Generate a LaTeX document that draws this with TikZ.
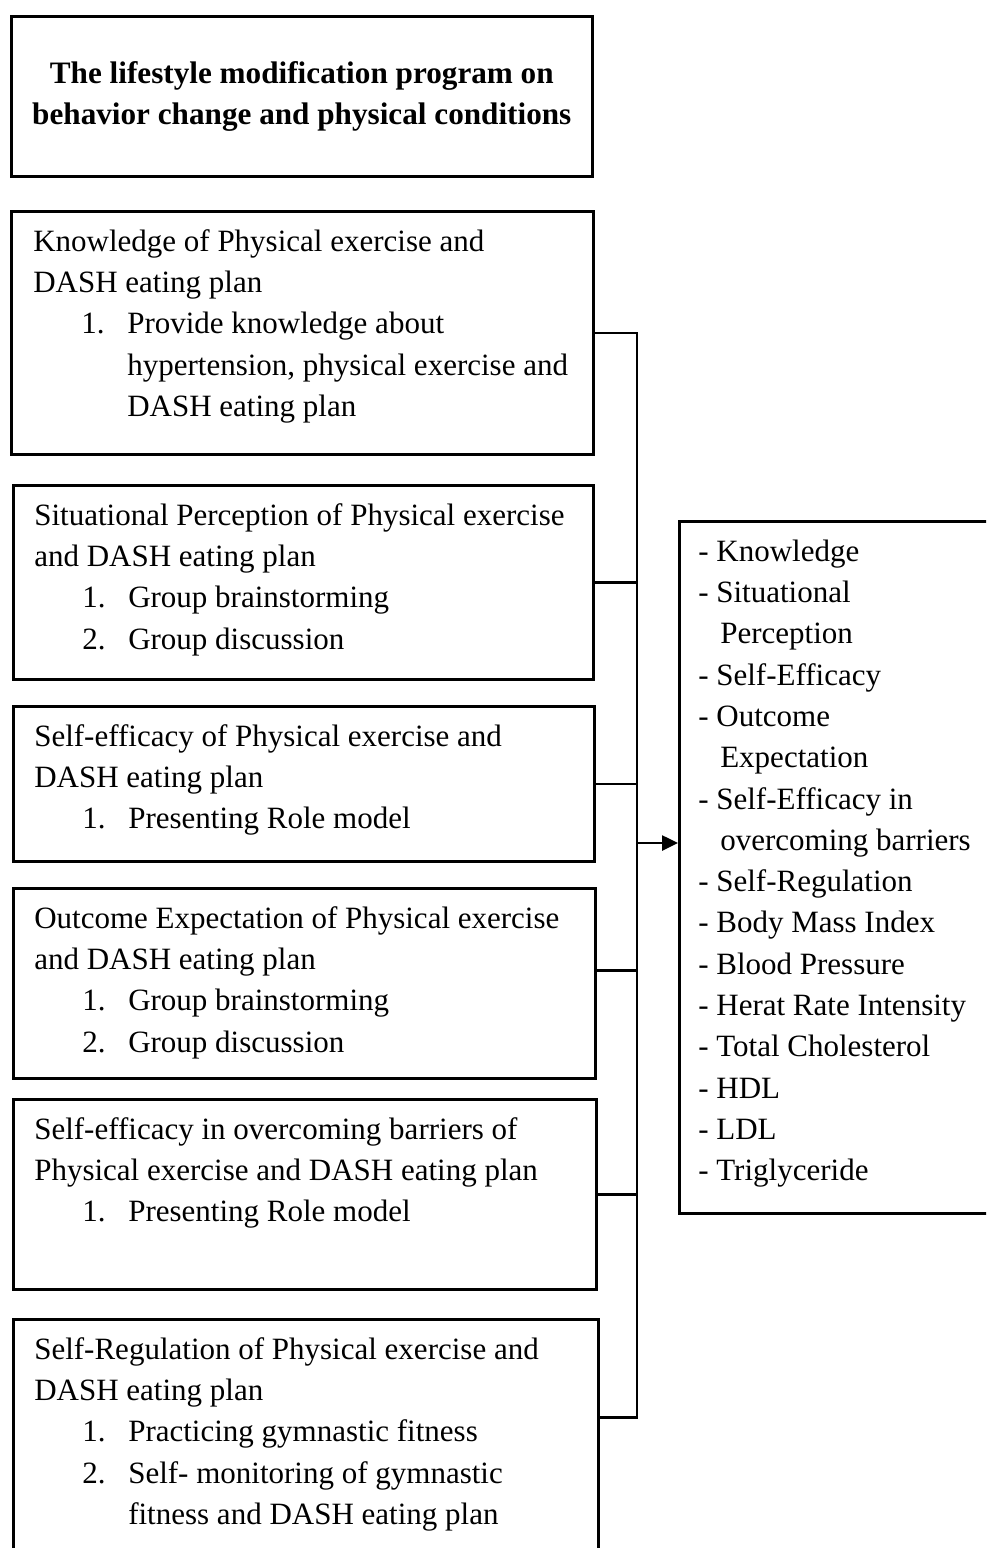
\documentclass[tikz,border=0pt]{standalone}
\usepackage{fontspec}
\setmainfont{Liberation Serif}
\usetikzlibrary{arrows.meta}

\newcommand{\bodyfont}{\fontsize{31}{41.3}\selectfont}
\newcommand{\headfont}{\fontsize{31.2}{41.3}\selectfont\bfseries}
\newcommand{\boxtext}[4]{\parbox[t][#1][t]{#2}{\vspace*{11pt}\leftskip=#3\relax\rightskip=-80pt plus 1fil\relax\strut #4\par}}
\newcommand{\stageitem}[2]{\par\hangindent=94pt\hangafter=1\hspace*{48pt}\makebox[46pt][l]{#1}#2}

\begin{document}
\begin{tikzpicture}[x=1pt, y=-1pt,
        head/.style={draw, line width=2.6pt, anchor=north west, minimum width=581pt, minimum height=160pt, align=center, font=\headfont},
        stage/.style={draw, line width=2.6pt, anchor=north west, inner sep=0pt, font=\bodyfont},
        link/.style={line width=2.6pt}]
        \useasboundingbox (0,0) rectangle (986,1548);
        \clip (0,0) rectangle (986,1548);

        \node[head] (title) at (10,15) {The lifestyle modification program on\\behavior change and physical conditions};

        \node[stage] (know) at (10,210) {\boxtext{243pt}{582pt}{22pt}{Knowledge of Physical exercise and\\DASH eating plan
            \stageitem{1.}{Provide knowledge about\\hypertension, physical exercise and\\DASH eating plan}}};
        \node[stage] (situ) at (12,484) {\boxtext{194pt}{580pt}{21pt}{Situational Perception of Physical exercise\\and DASH eating plan
            \stageitem{1.}{Group brainstorming}
            \stageitem{2.}{Group discussion}}};
        \node[stage] (effic) at (12,705) {\boxtext{155pt}{581pt}{21pt}{Self-efficacy of Physical exercise and\\DASH eating plan
            \stageitem{1.}{Presenting Role model}}};
        \node[stage] (outcome) at (12,887) {\boxtext{190pt}{582pt}{21pt}{Outcome Expectation of Physical exercise\\and DASH eating plan
            \stageitem{1.}{Group brainstorming}
            \stageitem{2.}{Group discussion}}};
        \node[stage] (barrier) at (12,1098) {\boxtext{190pt}{583pt}{21pt}{Self-efficacy in overcoming barriers of\\Physical exercise and DASH eating plan
            \stageitem{1.}{Presenting Role model}}};
        \node[stage] (selfreg) at (12,1318) {\boxtext{260pt}{585pt}{21pt}{Self-Regulation of Physical exercise and\\DASH eating plan
            \stageitem{1.}{Practicing gymnastic fitness}
            \stageitem{2.}{Self- monitoring of gymnastic\\fitness and DASH eating plan}}};

        \node[stage] (result) at (678,520) {\boxtext{692pt}{340pt}{19pt}{- Knowledge\\- Situational\\\hspace*{22pt}Perception\\- Self-Efficacy\\- Outcome\\\hspace*{22pt}Expectation\\- Self-Efficacy in\\\hspace*{22pt}overcoming barriers\\- Self-Regulation\\- Body Mass Index\\- Blood Pressure\\- Herat Rate Intensity\\- Total Cholesterol\\- HDL\\- LDL\\- Triglyceride}};

        \coordinate (bus) at (637,0);
        \coordinate (split) at (637,843);
        \coordinate (outstub) at ([yshift=13pt]outcome.east);
        \coordinate (regstub) at ([yshift=32pt]selfreg.east);

        \draw[link] (know.east) -- (know.east -| bus) -- (regstub -| bus) -- (regstub);
        \draw[link] (situ.east) to (situ.east -| bus)
            (effic.east) to (effic.east -| bus)
            (outstub) to (outstub -| bus)
            (barrier.east) to (barrier.east -| bus);
        \draw[link, -{Triangle[length=16pt, width=15pt]}] (split) -- (split -| result.west);
    \end{tikzpicture}
\end{document}
